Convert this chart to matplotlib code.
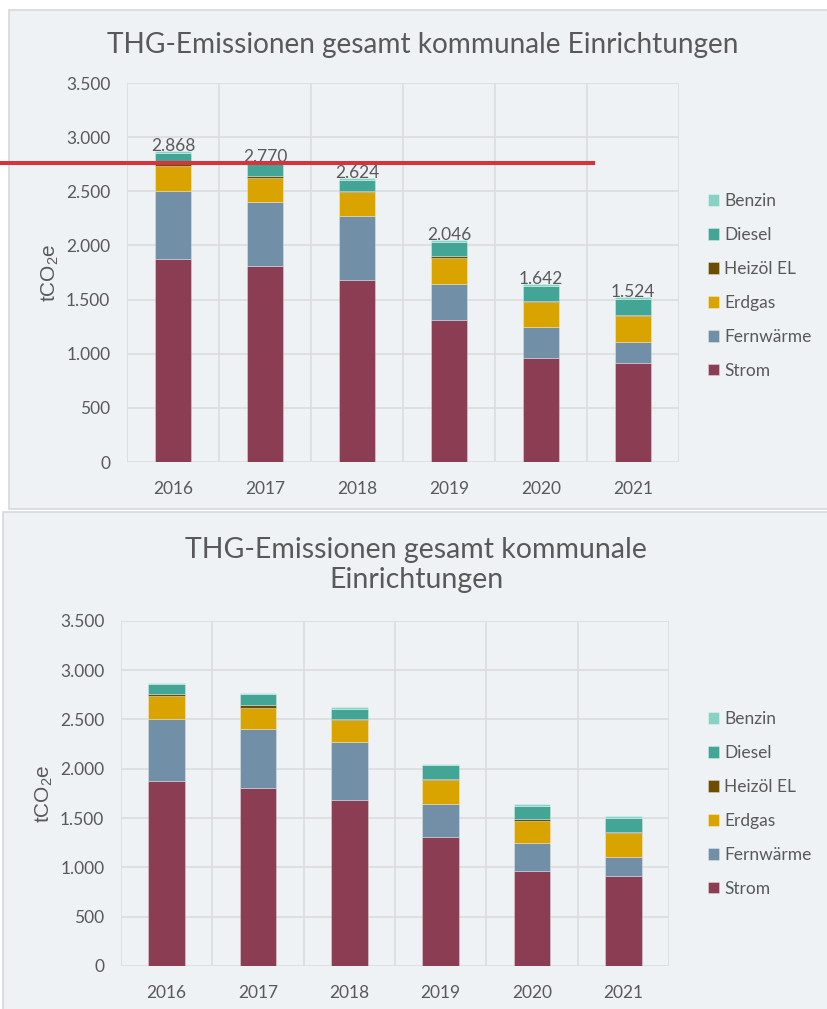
import matplotlib
matplotlib.use("Agg")
import matplotlib.pyplot as plt
from matplotlib.patches import Rectangle
from matplotlib.lines import Line2D
import numpy as np

plt.rcParams['font.family'] = ['Lato', 'DejaVu Sans']
plt.rcParams['mathtext.default'] = 'regular'

years = ['2016', '2017', '2018', '2019', '2020', '2021']
strom = [1875, 1809, 1678, 1308, 960, 914]
fernwaerme = [625, 596, 595, 335, 283, 190]
erdgas = [238, 215, 219, 243, 230, 240]
heizoel = [15, 25, 10, 12, 13, 13]
diesel = [103, 112, 103, 135, 140, 147]
benzin = [12, 13, 19, 13, 16, 20]
totals = [2868, 2770, 2624, 2046, 1642, 1524]

series_names = ['Strom', 'Fernwärme', 'Erdgas', 'Heizöl EL', 'Diesel', 'Benzin']
series_vals = [strom, fernwaerme, erdgas, heizoel, diesel, benzin]
series_cols = ['#8A3D53', '#7190A7', '#D9A400', '#6B4D00', '#42A595', '#88D2C5']

title_one = 'THG-Emissionen gesamt kommunale Einrichtungen'
title_two = 'THG-Emissionen gesamt kommunale\nEinrichtungen'

W, H = 827, 1009
fig = plt.figure(figsize=(W / 100, H / 100), dpi=100)
fig.patch.set_facecolor('white')

TXT = '#595959'
BG = '#EEF2F5'
GRID = '#DCDDDF'


def fx(px):
    return px / W


def fy(py):
    return 1 - py / H


def panel(x0, y0, x1, y1):
    r = Rectangle((fx(x0), fy(y1)), fx(x1) - fx(x0), fy(y0) - fy(y1),
                  transform=fig.transFigure, facecolor=BG, edgecolor='#D6D8DA',
                  linewidth=1.2, zorder=-5)
    fig.add_artist(r)


def fmt(v):
    return f"{v:,.0f}".replace(",", ".")


def draw_chart(left, right, top, bottom, labels, legend_cy, ylabel_x):
    ax = fig.add_axes([fx(left), fy(bottom), fx(right) - fx(left), fy(top) - fy(bottom)])
    ax.set_facecolor('none')
    x = np.arange(len(years))
    base = np.zeros(len(years))
    handles = []
    for name, vals, col in zip(series_names, series_vals, series_cols):
        b = ax.bar(x, vals, 0.4, bottom=base, color=col, label=name,
                   edgecolor=(1, 1, 1, 0.35), linewidth=0.6, zorder=3)
        handles.append(b)
        base = base + np.array(vals)
    ax.set_xlim(-0.5, len(years) - 0.5)
    ax.set_ylim(0, 3500)
    ax.set_yticks(np.arange(0, 3501, 500))
    ax.set_yticklabels([fmt(v) for v in np.arange(0, 3501, 500)])
    ax.set_xticks(x)
    ax.set_xticklabels(years)
    for yv in np.arange(0, 3501, 500):
        ax.axhline(yv, color=GRID, lw=1.3, zorder=1)
    for xv in np.arange(-0.5, len(years), 1.0):
        ax.axvline(xv, color=GRID, lw=1.3, zorder=1)
    for s in ax.spines.values():
        s.set_visible(False)
    ax.tick_params(axis='both', length=0, labelsize=12.5, colors=TXT)
    ax.tick_params(axis='y', pad=12)
    ax.tick_params(axis='x', pad=14)
    if labels:
        for xi, t in zip(x, totals):
            ax.text(xi, t - 25, fmt(t), ha='center', va='bottom', fontsize=12.5,
                    color=TXT, zorder=5)
    fig.text(fx(ylabel_x), fy((top + bottom) / 2), 'tCO$_2$e', rotation=90,
             ha='center', va='center', fontsize=15, color=TXT,
             family=['Liberation Sans', 'DejaVu Sans'])
    leg = ax.legend(handles[::-1], series_names[::-1], loc='center left',
                    bbox_to_anchor=(fx(701), fy(legend_cy)),
                    bbox_transform=fig.transFigure, frameon=False,
                    fontsize=12.5, labelspacing=1.03, handlelength=0.65,
                    handleheight=0.65, handletextpad=0.3, borderaxespad=0)
    for t in leg.get_texts():
        t.set_color(TXT)
    return ax


# top panel
panel(9, 10, 835, 509)
draw_chart(127, 679, 83, 462, True, 286, 50)
fig.text(fx(423), fy(45), title_one, ha='center', va='center', fontsize=20.2, color=TXT)

# bottom panel
panel(3, 512, 835, 1015)
draw_chart(121, 669, 620.7, 966, False, 804, 44)
fig.text(fx(416), fy(565), title_two, ha='center', va='center', fontsize=20.5,
         color=TXT, linespacing=1.2)

# red marker line
fig.add_artist(Line2D([0, fx(595)], [fy(163), fy(163)], transform=fig.transFigure,
                      color='#D5343C', lw=2.9, zorder=20, solid_capstyle='butt'))

fig.savefig('out.png', dpi=100)
